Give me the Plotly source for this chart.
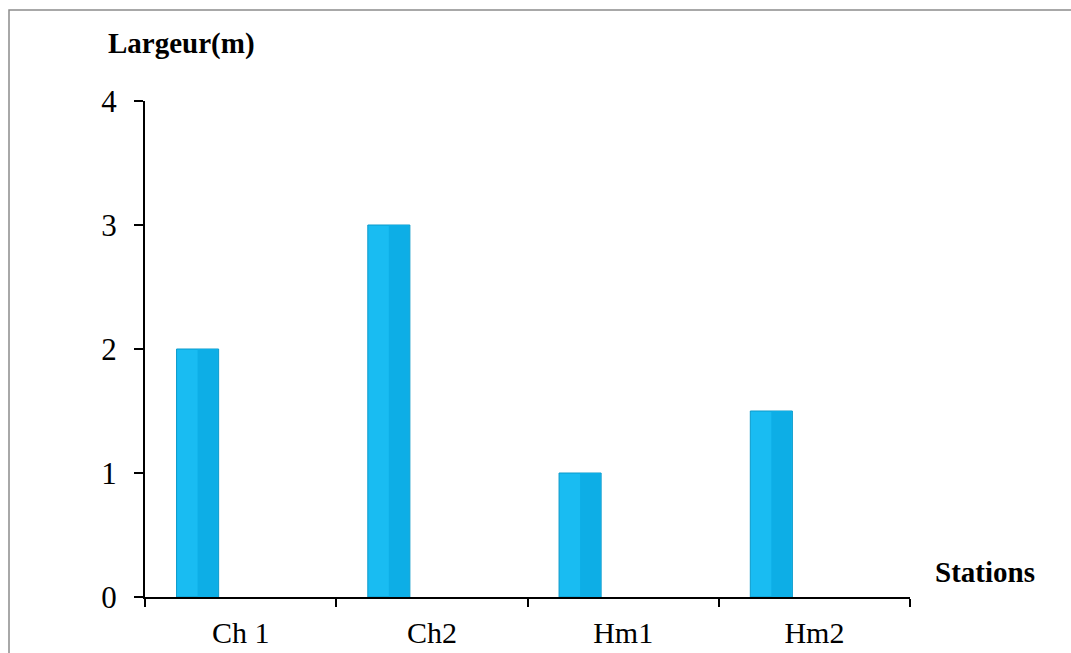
import plotly.graph_objects as go

stations = ["Ch 1", "Ch2", "Hm1", "Hm2"]
largeur = [2, 3, 1, 1.5]

# bar geometry in category units (one category = 1.0)
BAR_W = 0.22
BAR_OFF = -0.335

fig = go.Figure()

# main bar body
fig.add_trace(go.Bar(
    x=stations, y=largeur,
    width=BAR_W, offset=BAR_OFF,
    marker=dict(color="#19BCF2", line=dict(color="#0B9ACB", width=1)),
    hoverinfo="x+y", showlegend=False,
))
# slightly darker right face of the bevel
fig.add_trace(go.Bar(
    x=stations, y=largeur,
    width=BAR_W / 2 - 0.004, offset=BAR_OFF + BAR_W / 2,
    marker=dict(color="#0DAEE6", line=dict(width=0)),
    hoverinfo="skip", showlegend=False,
))

serif = "Liberation Serif, Times New Roman, serif"

fig.update_layout(
    width=1071, height=653,
    margin=dict(l=145, r=161, t=101, b=56),
    paper_bgcolor="white", plot_bgcolor="white",
    barmode="overlay",
    font=dict(family=serif, color="black"),
    xaxis=dict(
        type="category", tickson="boundaries",
        ticks="outside", ticklen=8, tickwidth=2, tickcolor="black",
        showline=True, linecolor="black", linewidth=2,
        showgrid=False, tickfont=dict(size=30, family=serif),
        ticklabelstandoff=8, automargin=False,
        range=[-0.5, 3.5], fixedrange=True,
    ),
    yaxis=dict(
        range=[0, 4], dtick=1,
        ticks="outside", ticklen=9, tickwidth=2, tickcolor="black",
        showline=True, linecolor="black", linewidth=2,
        showgrid=False, zeroline=False,
        tickfont=dict(size=31, family=serif),
        ticklabelstandoff=11, automargin=False,
        fixedrange=True,
    ),
    shapes=[
        dict(type="rect", xref="paper", yref="paper",
             x0=(9 - 145) / 765, x1=(1080 - 145) / 765,
             y0=(597 - 670) / 496, y1=(597 - 10) / 496,
             line=dict(color="#8c8c8c", width=1.5), layer="below"),
    ],
    annotations=[
        dict(text="<b>Largeur(m)</b>", xref="paper", yref="paper",
             x=(181 - 145) / 765, y=(597 - 43) / 496,
             xanchor="center", yanchor="middle", showarrow=False,
             font=dict(size=29, family=serif)),
        dict(text="<b>Stations</b>", xref="paper", yref="paper",
             x=(985 - 145) / 765, y=(597 - 572) / 496,
             xanchor="center", yanchor="middle", showarrow=False,
             font=dict(size=29, family=serif)),
    ],
)

fig.write_html("out.html")
